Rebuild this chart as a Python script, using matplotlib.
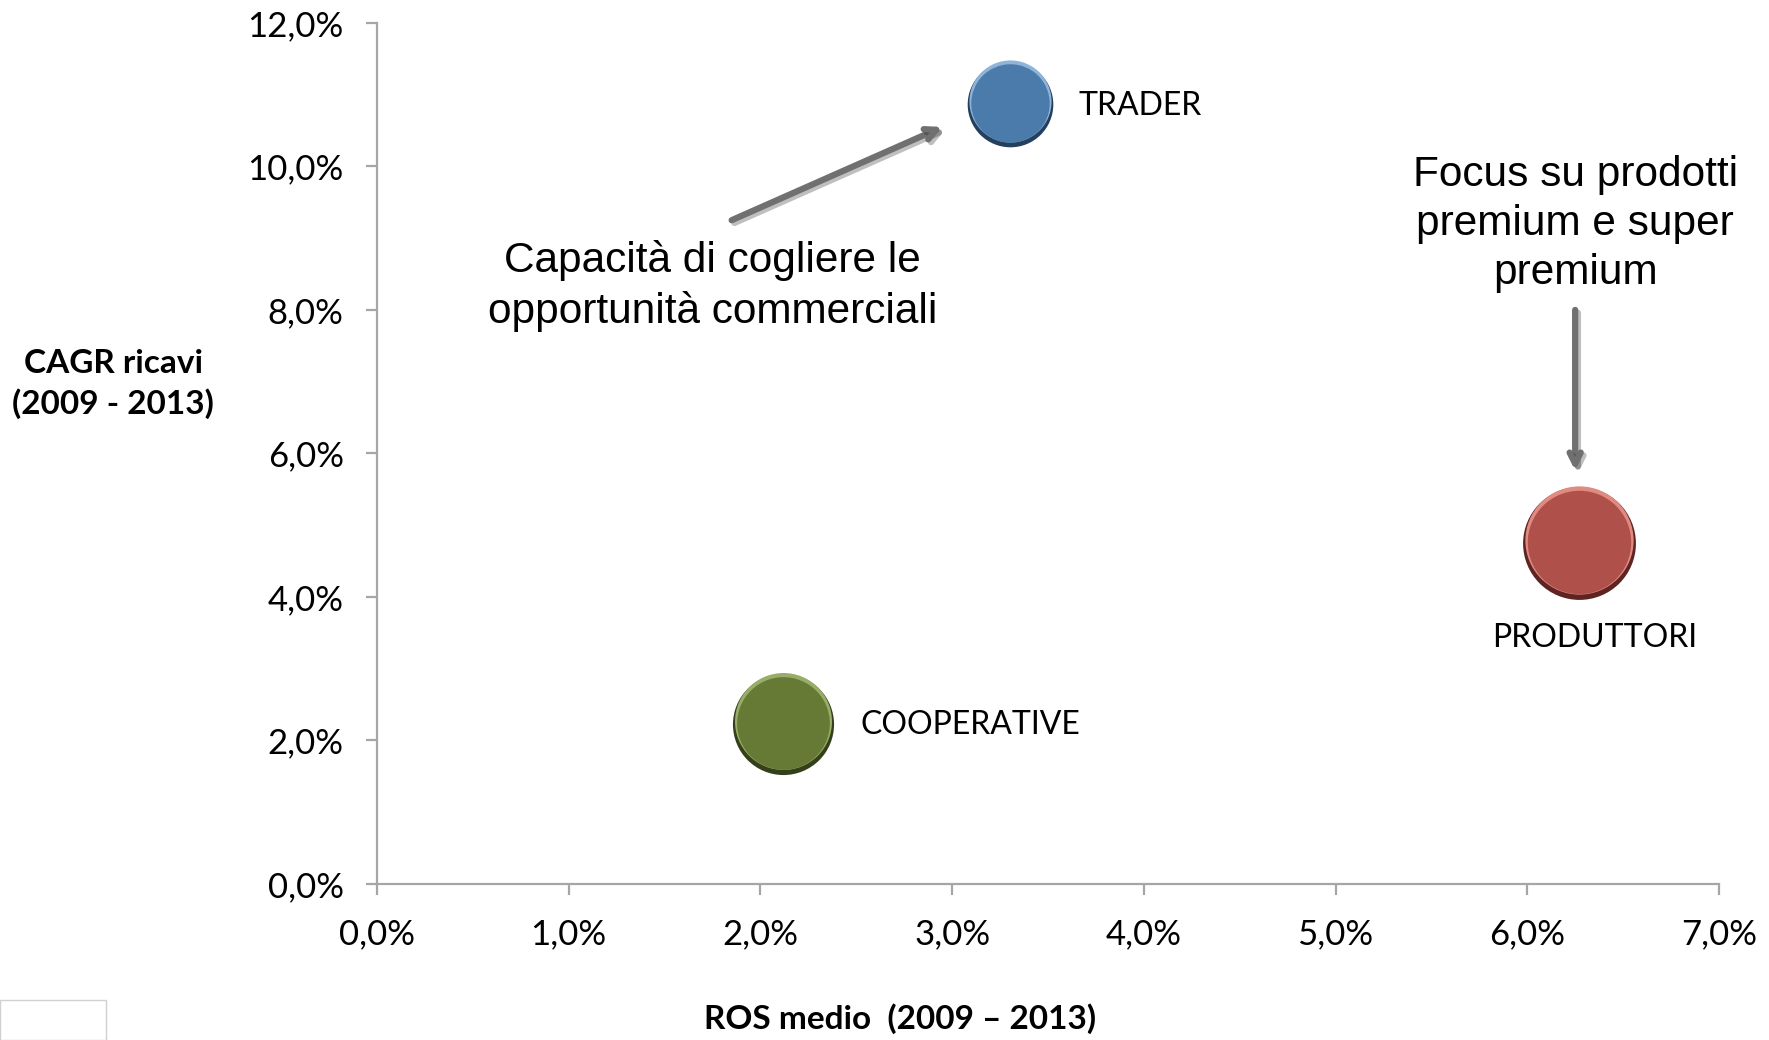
import matplotlib
matplotlib.use("Agg")
import matplotlib.pyplot as plt
from matplotlib.ticker import FuncFormatter, MultipleLocator
import matplotlib.patheffects as pe
from matplotlib.patches import Rectangle

# data (percent)
categories = ["TRADER", "COOPERATIVE", "PRODUTTORI"]
ros = [3.30, 2.12, 6.27]
cagr = [10.90, 2.26, 4.78]
bubble = [3800, 5300, 6600]
colors = ["#4A7BAA", "#667A35", "#B0504A"]
dark = ["#24405E", "#34401A", "#5E2422"]
light = ["#8FB3D9", "#98AD68", "#E08A82"]

CAL = ["Lato", "DejaVu Sans"]
ARI = ["Liberation Sans", "DejaVu Sans"]

fig = plt.figure(figsize=(17.69, 10.40), dpi=100)
ax = fig.add_axes([0.2131, 0.15, 0.7586, 0.828])
ax.set_xlim(0, 7)
ax.set_ylim(0, 12)
ax.xaxis.set_major_locator(MultipleLocator(1))
ax.yaxis.set_major_locator(MultipleLocator(2))
fmt = FuncFormatter(lambda v, p: f"{v:.1f}%".replace(".", ","))
ax.xaxis.set_major_formatter(fmt)
ax.yaxis.set_major_formatter(fmt)
for s in ["top", "right"]:
    ax.spines[s].set_visible(False)
for s in ["left", "bottom"]:
    ax.spines[s].set_color("#A6A6A6")
    ax.spines[s].set_linewidth(1.6)
ax.tick_params(axis="both", direction="out", length=8, width=1.6, color="#A6A6A6",
               labelsize=25, labelcolor="black")
ax.tick_params(axis="x", pad=17)
ax.tick_params(axis="y", pad=16)
for lab in ax.get_xticklabels() + ax.get_yticklabels():
    lab.set_family(CAL)

# bubbles with simple 3D look
for x, y, s, c, d, l in zip(ros, cagr, bubble, colors, dark, light):
    ax.scatter([x], [y - 0.03], s=s, color=d, zorder=3, clip_on=False, linewidths=0)
    ax.scatter([x], [y + 0.015], s=s * 0.92, color=l, zorder=4, clip_on=False, linewidths=0)
    ax.scatter([x], [y - 0.02], s=s * 0.84, color=c, zorder=5, clip_on=False, linewidths=0)

# labels
ax.text(ros[0] + 0.36, cagr[0] - 0.06, categories[0], fontsize=23, family=CAL,
        va="center", ha="left")
ax.text(ros[1] + 0.40, cagr[1] - 0.04, categories[1], fontsize=23, family=CAL,
        va="center", ha="left")
ax.text(ros[2] + 0.08, cagr[2] - 1.35, categories[2], fontsize=23, family=CAL,
        va="center", ha="center")

# annotations
arrow_kw = dict(arrowstyle="->,head_length=0.8,head_width=0.4", color="#707070", lw=4.5,
                shrinkA=0, shrinkB=0,
                path_effects=[pe.SimpleLineShadow(offset=(2, -2), alpha=0.25), pe.Normal()])
ax.annotate("", xy=(2.95, 10.55), xytext=(1.85, 9.25), arrowprops=arrow_kw)
ax.annotate("", xy=(6.25, 5.76), xytext=(6.25, 8.0), arrowprops=arrow_kw)

ax.text(1.75, 8.33, "Capacità di cogliere le\nopportunità commerciali", fontsize=30.5,
        family=ARI, ha="center", va="center", linespacing=1.3)
ax.text(6.25, 9.2, "Focus su prodotti\npremium e super\npremium", fontsize=30.5,
        family=ARI, ha="center", va="center", linespacing=1.3)

# axis titles
fig.text(113 / 1769, 1 - 384 / 1040, "CAGR ricavi\n(2009 - 2013)", fontsize=24,
         fontweight="bold", family=CAL, ha="center", va="center", linespacing=1.4)
fig.text(900 / 1769, 1 - 1019 / 1040, "ROS medio  (2009 – 2013)", fontsize=24,
         fontweight="bold", family=CAL, ha="center", va="center")

# small logo frame bottom-left
fig.patches.append(Rectangle((0, 0), 106 / 1769, 40 / 1040, transform=fig.transFigure,
                             fill=False, edgecolor="#D0D0D0", lw=1))

fig.savefig("out.png", dpi=100)
